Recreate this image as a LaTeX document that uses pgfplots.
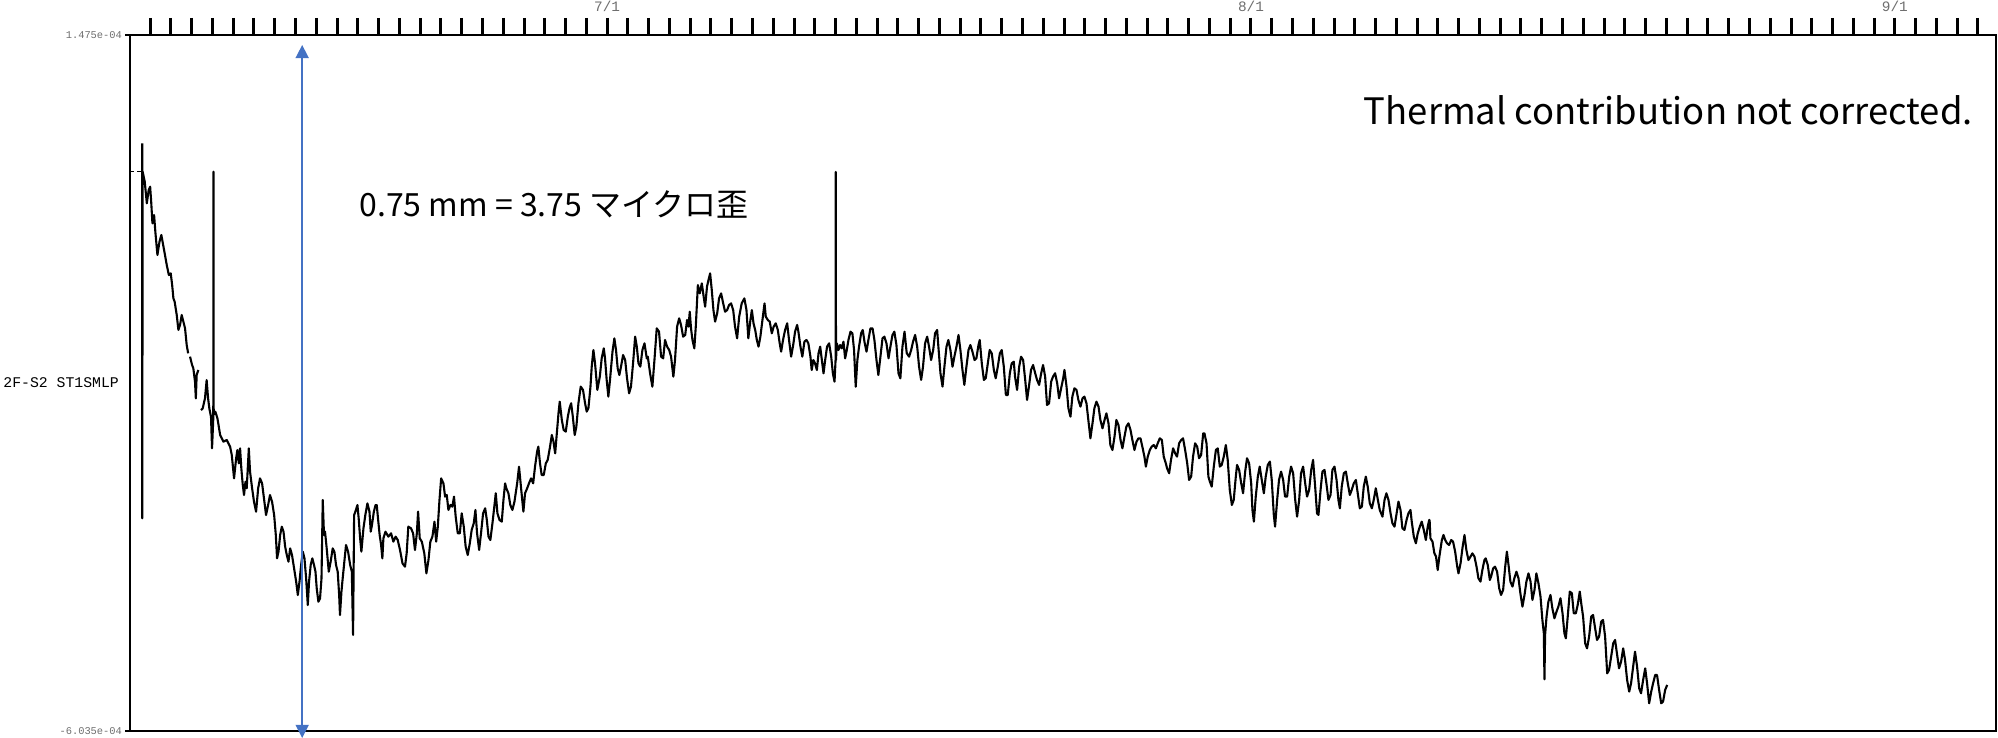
\documentclass[border=0pt]{standalone}
\usepackage{pgfplots}
\pgfplotsset{compat=1.18}
\usepackage{fontspec}
\usetikzlibrary{arrows.meta,calc}
\newfontfamily\jpfont{Noto Sans CJK JP}
\newfontfamily\monofont{Liberation Mono}
\definecolor{arrowblue}{HTML}{4472C4}
\definecolor{ticktext}{HTML}{6E6E6E}
\begin{document}
\begin{tikzpicture}
\begin{axis}[
  scale only axis, width=933bp, height=348bp,
  xmin=-22.97, xmax=66.87, ymin=-603.5, ymax=147.5,
  clip=false,
  axis line style={line width=1bp, black},
  tick align=outside,
  xtick pos=right, xticklabel pos=right,
  ytick pos=left,
  xtick={0,31,62}, xticklabels={7/1,8/1,9/1},
  minor xtick={-22,...,66},
  major tick length=8.5bp, minor tick length=8.5bp,
  tick style={line width=1.5bp, black},
  ytick={-603.5,147.5}, yticklabels={-6.035e-04,1.475e-04},
  ytick style={draw=none},
  xticklabel style={font=\fontsize{7.2bp}{8bp}\monofont, text=ticktext, yshift=-0.5bp},
  yticklabel style={font=\fontsize{5.2bp}{6bp}\monofont, text=ticktext, anchor=east, xshift=8bp},
  unbounded coords=jump,
]
\coordinate (sw) at (rel axis cs:0,0);
\coordinate (ne) at (rel axis cs:1,1);
\coordinate (ml) at (rel axis cs:0,0.5);
\addplot[black, line width=0.8bp, dash pattern=on 2bp off 1.5bp] table {
x y
-22.97 0.0
-22.37 0.0
};
\addplot[black, line width=1.05bp, line join=round] table {
x y
-22.38 30.6
-22.38 -374.1
-22.36 0.0
-22.26 -10.8
-22.16 -34.1
-22.07 -19.8
-22.00 -16.2
-21.95 -32.3
-21.89 -55.7
-21.81 -46.7
-21.75 -64.7
-21.65 -89.9
-21.55 -75.5
-21.46 -68.3
-21.30 -88.1
-21.20 -100.7
-21.10 -111.5
-21.01 -109.7
-20.94 -122.3
-20.88 -136.7
-20.82 -140.3
-20.72 -154.6
-20.64 -170.8
-20.56 -165.4
-20.48 -154.6
-20.40 -161.8
-20.32 -169.0
-20.24 -187.0
-20.17 -196.0
nan nan
-20.08 -199.6
-19.98 -208.6
-19.92 -212.2
-19.84 -226.6
-19.80 -244.6
-19.76 -219.4
-19.68 -214.0
nan nan
-19.55 -257.2
-19.47 -255.4
-19.36 -244.6
-19.28 -224.8
-19.21 -244.6
-19.15 -255.4
-19.07 -264.4
-19.02 -298.5
-18.96 -266.1
-18.95 0.0
-18.94 -262.0
-18.86 -259.0
-18.76 -266.1
-18.63 -284.1
-18.47 -291.3
-18.31 -289.5
-18.15 -296.7
-18.07 -305.7
-17.96 -330.9
-17.86 -309.3
-17.80 -300.3
-17.73 -314.7
-17.67 -298.5
-17.61 -320.1
-17.54 -338.1
-17.48 -348.9
-17.41 -334.5
-17.35 -341.7
-17.25 -298.5
-17.19 -323.7
-17.09 -341.7
-17.00 -356.1
-16.90 -366.9
-16.80 -341.7
-16.71 -330.9
-16.61 -336.3
-16.52 -352.5
-16.42 -370.5
-16.32 -359.7
-16.23 -348.9
-16.13 -356.1
-16.03 -370.5
-15.95 -392.0
-15.89 -417.2
-15.82 -410.0
-15.74 -392.0
-15.66 -383.0
-15.58 -388.4
-15.50 -404.6
-15.42 -413.6
-15.34 -420.8
-15.26 -406.4
-15.17 -413.6
-15.07 -428.0
-14.97 -442.4
-14.89 -456.8
-14.81 -442.4
-14.73 -424.4
-14.65 -410.0
-14.57 -417.2
-14.49 -438.8
-14.41 -467.6
-14.35 -442.4
-14.27 -424.4
-14.19 -417.2
-14.11 -424.4
-14.04 -431.6
-13.98 -449.6
-13.90 -464.0
-13.82 -460.4
-13.75 -438.8
-13.69 -354.3
-13.63 -392.0
-13.58 -388.4
-13.50 -406.4
-13.40 -431.6
-13.31 -420.8
-13.21 -406.4
-13.13 -410.0
-13.05 -424.4
-12.97 -431.6
-12.90 -456.8
-12.86 -478.4
-12.79 -453.2
-12.73 -438.8
-12.65 -420.8
-12.57 -402.8
-12.47 -410.0
-12.37 -424.4
-12.29 -431.6
-12.23 -499.9
-12.18 -370.5
-12.12 -366.9
-12.02 -359.7
-11.96 -374.0
-11.89 -395.6
-11.83 -410.0
-11.73 -384.8
-11.64 -370.5
-11.54 -357.9
-11.44 -366.9
-11.38 -388.4
-11.32 -381.2
-11.23 -366.9
-11.15 -359.7
-11.09 -359.7
-11.03 -374.0
-10.95 -392.0
-10.88 -402.8
-10.82 -417.2
-10.77 -395.6
-10.67 -388.4
-10.53 -393.8
-10.40 -390.2
-10.29 -399.2
-10.18 -393.8
-10.08 -397.4
-9.97 -408.2
-9.85 -422.6
-9.73 -426.2
-9.65 -411.8
-9.57 -383.0
-9.44 -384.8
-9.34 -390.2
-9.25 -408.2
-9.16 -390.2
-9.10 -366.8
-9.02 -395.6
-8.92 -399.2
-8.80 -411.8
-8.70 -433.4
-8.60 -419.0
-8.51 -399.2
-8.41 -393.8
-8.31 -377.6
-8.23 -399.2
-8.15 -383.0
-8.07 -354.2
-7.99 -330.9
-7.88 -336.3
-7.80 -350.6
-7.72 -348.8
-7.64 -365.0
-7.54 -359.6
-7.45 -361.4
-7.37 -350.6
-7.29 -372.2
-7.19 -390.2
-7.09 -390.2
-7.00 -368.6
-6.90 -383.0
-6.81 -404.6
-6.71 -413.6
-6.61 -401.0
-6.52 -386.6
-6.42 -379.4
-6.34 -365.0
-6.26 -390.2
-6.16 -408.2
-6.07 -390.2
-5.97 -368.6
-5.87 -363.2
-5.79 -375.8
-5.71 -393.8
-5.62 -397.4
-5.52 -379.4
-5.43 -361.4
-5.36 -347.0
-5.28 -368.6
-5.18 -375.8
-5.07 -377.6
-4.99 -354.2
-4.91 -336.3
-4.85 -341.7
-4.75 -347.0
-4.66 -359.6
-4.56 -365.0
-4.46 -356.0
-4.33 -336.3
-4.24 -318.3
-4.14 -341.7
-4.03 -366.8
-3.95 -347.0
-3.85 -341.7
-3.76 -336.3
-3.66 -330.9
-3.56 -336.3
-3.47 -318.3
-3.37 -302.1
-3.31 -296.7
-3.23 -314.7
-3.15 -327.3
-3.05 -327.3
-2.95 -314.7
-2.86 -311.1
-2.76 -298.5
-2.66 -284.1
-2.58 -291.3
-2.50 -303.9
-2.42 -282.3
-2.34 -260.7
-2.28 -248.1
-2.18 -267.9
-2.09 -278.7
-1.99 -280.5
-1.89 -264.3
-1.81 -255.3
-1.73 -249.9
-1.65 -264.3
-1.56 -284.1
-1.48 -275.1
-1.38 -249.9
-1.27 -231.9
-1.16 -235.5
-1.06 -249.9
-0.98 -258.9
-0.90 -255.3
-0.80 -231.9
-0.74 -210.4
-0.66 -192.4
-0.58 -206.8
-0.47 -235.5
-0.35 -221.1
-0.26 -201.4
-0.16 -190.6
-0.10 -201.4
-0.02 -224.7
0.06 -242.7
0.14 -224.7
0.26 -194.2
0.35 -179.8
0.43 -192.4
0.51 -212.2
0.59 -219.4
0.67 -210.4
0.77 -197.8
0.87 -203.2
0.96 -222.9
1.06 -239.1
1.15 -231.9
1.25 -206.8
1.35 -178.0
1.43 -188.8
1.51 -206.8
1.60 -210.4
1.70 -192.4
1.80 -185.2
1.91 -201.4
1.96 -199.6
2.07 -217.6
2.18 -232.0
2.28 -203.2
2.39 -169.0
2.50 -172.6
2.60 -199.6
2.70 -201.4
2.79 -181.6
2.89 -188.8
2.99 -192.4
3.08 -199.6
3.19 -221.2
3.27 -203.2
3.37 -167.2
3.47 -158.2
3.56 -165.4
3.66 -178.0
3.76 -176.2
3.85 -160.0
3.92 -167.2
3.98 -151.1
4.04 -169.0
4.11 -181.6
4.20 -190.6
4.27 -167.2
4.37 -122.3
4.46 -131.3
4.56 -120.5
4.65 -134.9
4.72 -145.7
4.81 -124.1
4.88 -116.9
4.96 -109.7
5.04 -127.7
5.12 -149.3
5.20 -161.8
5.30 -152.9
5.39 -136.7
5.49 -131.3
5.59 -142.1
5.68 -151.1
5.78 -149.3
5.87 -143.9
5.97 -142.1
6.07 -149.3
6.16 -167.2
6.26 -179.8
6.36 -156.4
6.48 -142.1
6.61 -136.7
6.71 -149.3
6.80 -179.8
6.90 -160.0
6.97 -149.3
7.05 -163.6
7.13 -170.8
7.21 -181.6
7.29 -188.8
7.38 -178.0
7.48 -160.0
7.58 -142.1
7.64 -156.4
7.74 -160.0
7.83 -161.8
7.93 -174.4
8.02 -167.2
8.12 -163.6
8.22 -170.8
8.31 -185.2
8.38 -194.2
8.47 -181.6
8.57 -170.8
8.67 -163.6
8.76 -181.6
8.86 -199.6
8.96 -187.0
9.05 -172.6
9.15 -165.4
9.21 -172.6
9.31 -188.8
9.40 -199.6
9.50 -183.4
9.60 -181.6
9.69 -185.2
9.79 -199.6
9.85 -214.0
9.93 -203.2
10.01 -206.8
10.10 -214.0
10.18 -196.0
10.26 -188.8
10.34 -203.2
10.42 -217.6
10.50 -203.2
10.59 -188.8
10.69 -185.2
10.79 -199.6
10.87 -217.6
10.95 -226.6
11.00 -203.2
11.01 -0.3
11.02 -203.2
11.06 -185.2
11.14 -192.4
11.22 -187.0
11.30 -190.6
11.38 -183.4
11.46 -201.4
11.54 -192.4
11.62 -181.6
11.72 -172.6
11.81 -174.4
11.89 -192.4
11.97 -232.0
12.05 -203.2
12.13 -188.8
12.23 -174.4
12.31 -170.8
12.39 -183.4
12.49 -194.2
12.58 -181.6
12.68 -169.0
12.78 -169.0
12.87 -181.6
12.97 -203.2
13.06 -219.4
13.16 -199.6
13.26 -179.8
13.35 -178.0
13.45 -185.2
13.55 -201.4
13.64 -188.8
13.74 -176.2
13.83 -172.6
13.93 -187.0
14.03 -217.6
14.12 -223.0
14.22 -188.8
14.32 -172.6
14.41 -192.4
14.43 -196.0
14.54 -199.6
14.64 -192.4
14.73 -183.4
14.83 -176.2
14.93 -188.8
15.02 -210.4
15.12 -224.7
15.21 -210.4
15.31 -185.2
15.41 -178.0
15.50 -188.8
15.60 -203.2
15.70 -192.4
15.79 -174.4
15.89 -170.8
15.95 -188.8
16.05 -217.5
16.15 -231.9
16.24 -210.4
16.34 -188.8
16.43 -181.6
16.53 -192.4
16.63 -210.4
16.72 -199.6
16.82 -188.8
16.92 -176.2
17.01 -192.4
17.11 -213.9
17.20 -230.1
17.30 -210.4
17.40 -192.4
17.49 -187.0
17.59 -194.2
17.69 -203.2
17.78 -201.4
17.88 -187.0
17.94 -181.6
18.04 -206.8
18.14 -224.7
18.23 -222.9
18.33 -206.8
18.42 -192.4
18.52 -196.0
18.62 -213.9
18.71 -222.9
18.81 -210.4
18.91 -196.0
19.00 -192.4
19.10 -210.4
19.20 -240.9
19.29 -240.9
19.39 -217.5
19.48 -206.8
19.58 -205.0
19.64 -221.1
19.74 -235.5
19.84 -210.4
19.93 -199.6
20.03 -203.2
20.13 -224.7
20.22 -246.3
20.32 -230.1
20.41 -213.9
20.51 -208.6
20.61 -217.5
20.70 -224.7
20.80 -230.1
20.90 -217.5
20.99 -208.6
21.09 -221.1
21.18 -251.7
21.28 -249.9
21.38 -226.5
21.47 -221.1
21.57 -217.5
21.67 -228.3
21.76 -244.5
21.86 -233.7
21.96 -222.9
22.02 -213.9
22.12 -231.9
22.21 -255.3
22.31 -264.3
22.40 -242.7
22.50 -233.7
22.60 -235.5
22.69 -246.3
22.79 -253.5
22.89 -244.5
22.98 -242.7
23.08 -249.9
23.17 -267.9
23.27 -287.7
23.37 -271.5
23.46 -255.3
23.56 -248.1
23.66 -253.5
23.75 -267.9
23.85 -276.9
23.95 -267.9
24.04 -260.7
24.14 -271.5
24.23 -294.9
24.33 -300.3
24.43 -285.9
24.52 -267.9
24.62 -273.3
24.72 -289.5
24.81 -298.5
24.91 -285.9
25.00 -275.1
25.10 -271.5
25.20 -278.7
25.29 -289.5
25.39 -300.3
25.49 -291.3
25.58 -287.7
25.68 -287.7
25.77 -296.7
25.87 -307.5
25.94 -318.3
26.03 -307.5
26.13 -300.3
26.22 -296.7
26.32 -294.9
26.42 -298.5
26.51 -293.1
26.61 -287.7
26.71 -289.5
26.80 -307.5
26.90 -314.7
26.96 -320.0
27.06 -325.4
27.15 -311.0
27.25 -298.5
27.35 -303.9
27.44 -307.5
27.54 -293.1
27.64 -289.5
27.73 -287.7
27.83 -300.3
27.93 -314.6
28.02 -332.6
28.12 -329.0
28.21 -307.5
28.31 -293.1
28.41 -296.7
28.50 -309.2
28.60 -305.7
28.70 -282.3
28.76 -282.3
28.86 -293.1
28.95 -329.0
29.02 -334.4
29.11 -339.8
29.21 -318.2
29.31 -300.3
29.40 -298.5
29.50 -318.2
29.59 -316.4
29.69 -307.5
29.79 -294.9
29.88 -311.0
29.98 -343.4
30.08 -359.6
30.17 -354.2
30.27 -329.0
30.33 -316.4
30.43 -321.8
30.53 -336.2
30.62 -347.0
30.72 -323.6
30.81 -309.2
30.91 -314.6
31.01 -336.2
31.07 -365.0
31.14 -377.6
31.23 -350.6
31.33 -329.0
31.42 -318.2
31.52 -332.6
31.62 -347.0
31.71 -329.0
31.81 -316.4
31.91 -312.8
32.00 -332.6
32.10 -370.4
32.16 -383.0
32.26 -354.2
32.35 -332.6
32.45 -323.6
32.55 -332.6
32.64 -350.6
32.74 -350.6
32.84 -329.0
32.93 -318.2
33.03 -325.4
33.13 -354.2
33.22 -372.2
33.32 -354.2
33.41 -325.4
33.51 -318.2
33.61 -336.2
33.70 -350.6
33.80 -343.4
33.90 -321.8
33.99 -311.0
34.09 -339.8
34.18 -368.6
34.25 -370.4
34.35 -343.4
34.44 -323.6
34.54 -321.8
34.63 -336.2
34.73 -354.2
34.83 -348.8
34.92 -321.8
35.02 -318.2
35.12 -332.6
35.21 -354.2
35.28 -363.2
35.37 -339.8
35.47 -325.4
35.57 -323.6
35.66 -336.2
35.76 -348.8
35.85 -343.4
35.95 -336.2
36.05 -332.6
36.14 -347.0
36.24 -363.2
36.34 -361.4
36.43 -339.8
36.53 -329.0
36.62 -339.8
36.72 -357.8
36.82 -363.2
36.91 -354.2
37.01 -341.6
37.11 -354.2
37.20 -365.0
37.33 -372.2
37.43 -354.2
37.52 -347.0
37.62 -354.2
37.72 -368.6
37.81 -379.4
37.91 -383.0
38.00 -370.4
38.10 -356.0
38.20 -365.0
38.29 -384.8
38.39 -386.6
38.49 -375.8
38.58 -368.6
38.68 -365.0
38.74 -377.6
38.84 -393.8
38.94 -401.0
39.03 -390.2
39.13 -383.0
39.22 -377.6
39.32 -386.6
39.42 -397.4
39.51 -383.0
39.58 -375.8
39.60 -375.8
39.64 -395.6
39.74 -399.2
39.83 -411.8
39.91 -415.4
39.99 -429.8
40.07 -415.4
40.19 -397.4
40.27 -392.0
40.35 -397.4
40.44 -401.0
40.54 -402.8
40.64 -397.4
40.73 -399.2
40.83 -410.0
40.93 -426.2
40.99 -433.4
41.09 -422.6
41.18 -406.4
41.28 -392.0
41.37 -408.2
41.47 -419.0
41.57 -415.4
41.66 -411.8
41.76 -415.4
41.86 -426.2
41.95 -438.7
42.05 -442.3
42.14 -429.8
42.24 -419.0
42.30 -417.2
42.40 -424.4
42.50 -440.5
42.56 -436.9
42.66 -428.0
42.75 -426.2
42.85 -431.6
42.95 -449.5
43.04 -456.7
43.14 -451.3
43.24 -426.2
43.32 -410.0
43.40 -424.4
43.49 -442.3
43.59 -447.7
43.68 -438.7
43.78 -431.6
43.88 -438.7
43.97 -454.9
44.07 -469.3
44.17 -456.7
44.26 -442.3
44.36 -433.4
44.46 -442.3
44.55 -462.1
44.65 -451.3
44.74 -433.4
44.84 -444.1
44.94 -458.5
45.03 -483.7
45.10 -498.1
45.13 -547.7
45.16 -499.9
45.23 -480.1
45.32 -463.9
45.42 -456.7
45.51 -471.1
45.61 -481.9
45.71 -474.7
45.80 -469.3
45.90 -460.3
46.00 -476.5
46.09 -498.1
46.16 -503.5
46.25 -480.1
46.35 -453.1
46.45 -454.9
46.54 -476.5
46.64 -476.5
46.73 -467.5
46.83 -453.1
46.90 -465.7
46.99 -480.1
47.09 -508.9
47.18 -514.3
47.28 -501.7
47.38 -480.1
47.47 -478.3
47.57 -492.7
47.66 -505.3
47.76 -501.7
47.86 -485.5
47.95 -483.7
48.05 -501.7
48.15 -541.3
48.24 -537.7
48.34 -523.3
48.44 -508.9
48.53 -505.3
48.63 -521.5
48.72 -535.9
48.82 -528.7
48.92 -514.3
49.01 -526.9
49.11 -548.5
49.21 -561.0
49.30 -552.0
49.40 -534.1
49.49 -517.9
49.59 -534.1
49.69 -557.4
49.78 -562.8
49.88 -548.5
49.98 -535.9
50.07 -552.0
50.17 -573.6
50.27 -561.0
50.36 -552.0
50.46 -543.1
50.55 -543.1
50.65 -559.2
50.75 -573.6
50.84 -571.8
50.94 -559.2
51.04 -553.8
};
\draw[arrowblue, line width=0.75bp, {Triangle[width=6.5bp,length=6.5bp]}-{Triangle[width=6.5bp,length=6.5bp]}] (axis cs:-14.68,136.7) -- (axis cs:-14.68,-611.0);
\node[anchor=east, inner sep=0pt, font=\fontsize{18.2bp}{22bp}\jpfont] at (axis cs:65.77,66.6) {Thermal contribution not corrected.};
\node[anchor=west, inner sep=0pt, font=\fontsize{16bp}{20bp}\jpfont] at (axis cs:-11.94,-34.9) {0.75 mm = 3.75 マイクロ歪};
\end{axis}
\draw[line width=1bp] (sw) -- ++(-2.5bp,0);
\draw[line width=1bp] (sw|-ne) -- ++(-2.5bp,0);
\node[anchor=west, inner sep=0pt, font=\fontsize{7.4bp}{8bp}\monofont] at ([xshift=-63.5bp]ml) {2F-S2 ST1SMLP};
\pgfresetboundingbox
\path[use as bounding box] ([xshift=-65bp,yshift=-3.5bp]sw) rectangle ([xshift=1bp,yshift=17.5bp]ne);
\end{tikzpicture}
\end{document}
